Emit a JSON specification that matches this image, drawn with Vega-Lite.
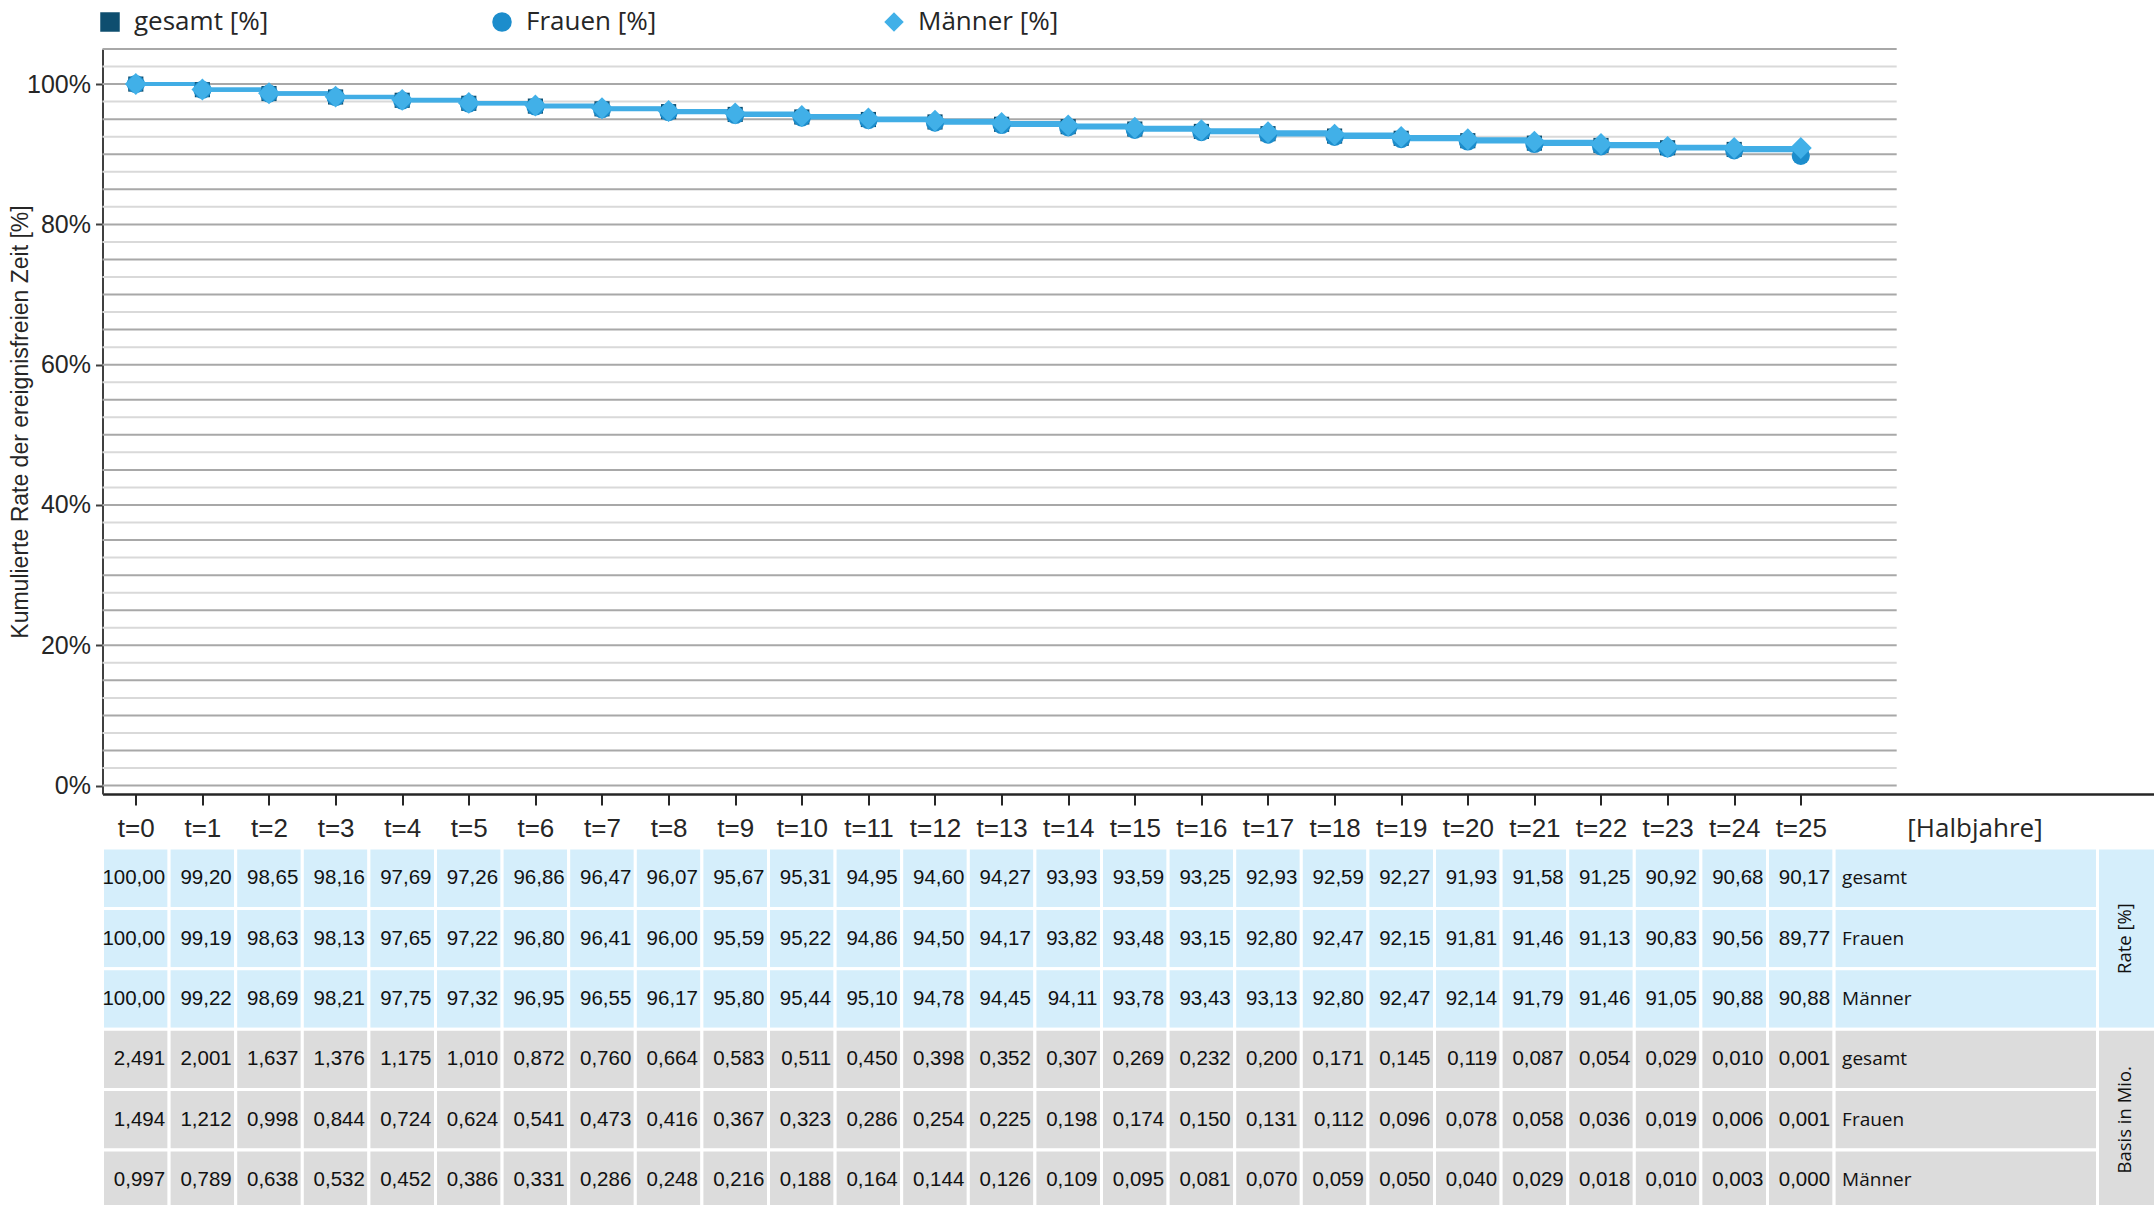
{
  "$schema": "https://vega.github.io/schema/vega-lite/v6.json",
  "background": "white",
  "padding": {"left": 9.5, "top": 9, "right": 0, "bottom": 0},
  "config": {
    "view": {"stroke": null},
    "locale": {"number": {"decimal": ",", "thousands": ".", "grouping": [3], "currency": ["", " €"]}},
    "legend": {"orient": "none", "legendX": -5.5, "legendY": -40, "direction": "horizontal", "title": null, "labelFont": "Open Sans", "labelFontSize": 26, "labelColor": "#262626", "symbolSize": 380, "symbolStrokeWidth": 0, "columnPadding": 214, "labelOffset": 11, "gridAlign": "all", "padding": 0}
  },
  "spacing": 54,
  "bounds": "flush",
  "resolve": {"scale": {"color": "independent", "shape": "independent", "fill": "independent"}, "legend": {"color": "independent", "shape": "independent"}},
  "datasets": {
    "d": [
      {"t":0,"g":"gesamt","rate":100.00,"basis":2.491},{"t":1,"g":"gesamt","rate":99.20,"basis":2.001},{"t":2,"g":"gesamt","rate":98.65,"basis":1.637},{"t":3,"g":"gesamt","rate":98.16,"basis":1.376},{"t":4,"g":"gesamt","rate":97.69,"basis":1.175},{"t":5,"g":"gesamt","rate":97.26,"basis":1.010},{"t":6,"g":"gesamt","rate":96.86,"basis":0.872},{"t":7,"g":"gesamt","rate":96.47,"basis":0.760},{"t":8,"g":"gesamt","rate":96.07,"basis":0.664},{"t":9,"g":"gesamt","rate":95.67,"basis":0.583},{"t":10,"g":"gesamt","rate":95.31,"basis":0.511},{"t":11,"g":"gesamt","rate":94.95,"basis":0.450},{"t":12,"g":"gesamt","rate":94.60,"basis":0.398},{"t":13,"g":"gesamt","rate":94.27,"basis":0.352},{"t":14,"g":"gesamt","rate":93.93,"basis":0.307},{"t":15,"g":"gesamt","rate":93.59,"basis":0.269},{"t":16,"g":"gesamt","rate":93.25,"basis":0.232},{"t":17,"g":"gesamt","rate":92.93,"basis":0.200},{"t":18,"g":"gesamt","rate":92.59,"basis":0.171},{"t":19,"g":"gesamt","rate":92.27,"basis":0.145},{"t":20,"g":"gesamt","rate":91.93,"basis":0.119},{"t":21,"g":"gesamt","rate":91.58,"basis":0.087},{"t":22,"g":"gesamt","rate":91.25,"basis":0.054},{"t":23,"g":"gesamt","rate":90.92,"basis":0.029},{"t":24,"g":"gesamt","rate":90.68,"basis":0.010},{"t":25,"g":"gesamt","rate":90.17,"basis":0.001},
      {"t":0,"g":"Frauen","rate":100.00,"basis":1.494},{"t":1,"g":"Frauen","rate":99.19,"basis":1.212},{"t":2,"g":"Frauen","rate":98.63,"basis":0.998},{"t":3,"g":"Frauen","rate":98.13,"basis":0.844},{"t":4,"g":"Frauen","rate":97.65,"basis":0.724},{"t":5,"g":"Frauen","rate":97.22,"basis":0.624},{"t":6,"g":"Frauen","rate":96.80,"basis":0.541},{"t":7,"g":"Frauen","rate":96.41,"basis":0.473},{"t":8,"g":"Frauen","rate":96.00,"basis":0.416},{"t":9,"g":"Frauen","rate":95.59,"basis":0.367},{"t":10,"g":"Frauen","rate":95.22,"basis":0.323},{"t":11,"g":"Frauen","rate":94.86,"basis":0.286},{"t":12,"g":"Frauen","rate":94.50,"basis":0.254},{"t":13,"g":"Frauen","rate":94.17,"basis":0.225},{"t":14,"g":"Frauen","rate":93.82,"basis":0.198},{"t":15,"g":"Frauen","rate":93.48,"basis":0.174},{"t":16,"g":"Frauen","rate":93.15,"basis":0.150},{"t":17,"g":"Frauen","rate":92.80,"basis":0.131},{"t":18,"g":"Frauen","rate":92.47,"basis":0.112},{"t":19,"g":"Frauen","rate":92.15,"basis":0.096},{"t":20,"g":"Frauen","rate":91.81,"basis":0.078},{"t":21,"g":"Frauen","rate":91.46,"basis":0.058},{"t":22,"g":"Frauen","rate":91.13,"basis":0.036},{"t":23,"g":"Frauen","rate":90.83,"basis":0.019},{"t":24,"g":"Frauen","rate":90.56,"basis":0.006},{"t":25,"g":"Frauen","rate":89.77,"basis":0.001},
      {"t":0,"g":"Männer","rate":100.00,"basis":0.997},{"t":1,"g":"Männer","rate":99.22,"basis":0.789},{"t":2,"g":"Männer","rate":98.69,"basis":0.638},{"t":3,"g":"Männer","rate":98.21,"basis":0.532},{"t":4,"g":"Männer","rate":97.75,"basis":0.452},{"t":5,"g":"Männer","rate":97.32,"basis":0.386},{"t":6,"g":"Männer","rate":96.95,"basis":0.331},{"t":7,"g":"Männer","rate":96.55,"basis":0.286},{"t":8,"g":"Männer","rate":96.17,"basis":0.248},{"t":9,"g":"Männer","rate":95.80,"basis":0.216},{"t":10,"g":"Männer","rate":95.44,"basis":0.188},{"t":11,"g":"Männer","rate":95.10,"basis":0.164},{"t":12,"g":"Männer","rate":94.78,"basis":0.144},{"t":13,"g":"Männer","rate":94.45,"basis":0.126},{"t":14,"g":"Männer","rate":94.11,"basis":0.109},{"t":15,"g":"Männer","rate":93.78,"basis":0.095},{"t":16,"g":"Männer","rate":93.43,"basis":0.081},{"t":17,"g":"Männer","rate":93.13,"basis":0.070},{"t":18,"g":"Männer","rate":92.80,"basis":0.059},{"t":19,"g":"Männer","rate":92.47,"basis":0.050},{"t":20,"g":"Männer","rate":92.14,"basis":0.040},{"t":21,"g":"Männer","rate":91.79,"basis":0.029},{"t":22,"g":"Männer","rate":91.46,"basis":0.018},{"t":23,"g":"Männer","rate":91.05,"basis":0.010},{"t":24,"g":"Männer","rate":90.88,"basis":0.003},{"t":25,"g":"Männer","rate":90.88,"basis":0.000}
    ],
    "gmaj": [{"g":0},{"g":5},{"g":10},{"g":15},{"g":20},{"g":25},{"g":30},{"g":35},{"g":40},{"g":45},{"g":50},{"g":55},{"g":60},{"g":65},{"g":70},{"g":75},{"g":80},{"g":85},{"g":90},{"g":95},{"g":100},{"g":105}],
    "gmin": [{"g":2.5},{"g":7.5},{"g":12.5},{"g":17.5},{"g":22.5},{"g":27.5},{"g":32.5},{"g":37.5},{"g":42.5},{"g":47.5},{"g":52.5},{"g":57.5},{"g":62.5},{"g":67.5},{"g":72.5},{"g":77.5},{"g":82.5},{"g":87.5},{"g":92.5},{"g":97.5},{"g":102.5}],
    "blocks": [{"blk":"Rate [%]","r0":0,"r1":3},{"blk":"Basis in Mio.","r0":3,"r1":6}]
  },
  "vconcat": [
    {
      "width": 2051,
      "height": 745,
      "layer": [
        {
          "data": {"name": "gmin"},
          "mark": {"type": "rule", "color": "#D9D9D9", "strokeWidth": 2},
          "encoding": {
            "x": {"datum": -0.5, "type": "quantitative", "scale": {"domain": [-0.5, 30.296], "nice": false, "zero": false},
              "axis": {"values": [0,1,2,3,4,5,6,7,8,9,10,11,12,13,14,15,16,17,18,19,20,21,22,23,24,25], "labelExpr": "'t=' + datum.value", "title": "[Halbjahre]", "titleX": 1872, "titleY": 34, "titleBaseline": "middle", "titleAlign": "center", "titleFont": "Open Sans", "titleFontSize": 26, "titleFontWeight": "normal", "titleColor": "#262626", "labelFont": "Liberation Sans", "labelFontSize": 26, "labelColor": "#262626", "labelBaseline": "middle", "labelPadding": 23, "labelOverlap": false, "labelFlush": false, "tickSize": 11, "tickColor": "#262626", "tickWidth": 2, "domainColor": "#262626", "domainWidth": 2.5, "grid": false}},
            "x2": {"datum": 26.44},
            "y": {"field": "g", "type": "quantitative", "scale": {"domain": [-1.2, 105], "nice": false, "zero": false},
              "axis": {"values": [0,20,40,60,80,100], "labelExpr": "datum.value + '%'", "title": "Kumulierte Rate der ereignisfreien Zeit [%]", "titleX": -82, "titleY": 372.5, "titleAngle": 270, "titleBaseline": "middle", "titleAlign": "center", "titleFont": "Liberation Sans", "titleFontSize": 23, "titleFontWeight": "normal", "titleColor": "#262626", "labelFont": "Liberation Sans", "labelFontSize": 25, "labelColor": "#262626", "labelPadding": 5, "labelFlush": false, "labelOverlap": false, "tickSize": 7, "tickColor": "#404040", "tickWidth": 2, "domainColor": "#404040", "domainWidth": 2, "grid": false}}
          }
        },
        {
          "data": {"name": "gmaj"},
          "mark": {"type": "rule", "color": "#A8A8A8", "strokeWidth": 2},
          "encoding": {
            "x": {"datum": -0.5, "type": "quantitative", "scale": {"domain": [-0.5, 30.296], "nice": false, "zero": false},
              "axis": {"values": [0,1,2,3,4,5,6,7,8,9,10,11,12,13,14,15,16,17,18,19,20,21,22,23,24,25], "labelExpr": "'t=' + datum.value", "title": "[Halbjahre]", "titleX": 1872, "titleY": 34, "titleBaseline": "middle", "titleAlign": "center", "titleFont": "Open Sans", "titleFontSize": 26, "titleFontWeight": "normal", "titleColor": "#262626", "labelFont": "Liberation Sans", "labelFontSize": 26, "labelColor": "#262626", "labelBaseline": "middle", "labelPadding": 23, "labelOverlap": false, "labelFlush": false, "tickSize": 11, "tickColor": "#262626", "tickWidth": 2, "domainColor": "#262626", "domainWidth": 2.5, "grid": false}},
            "x2": {"datum": 26.44},
            "y": {"field": "g", "type": "quantitative", "scale": {"domain": [-1.2, 105], "nice": false, "zero": false},
              "axis": {"values": [0,20,40,60,80,100], "labelExpr": "datum.value + '%'", "title": "Kumulierte Rate der ereignisfreien Zeit [%]", "titleX": -82, "titleY": 372.5, "titleAngle": 270, "titleBaseline": "middle", "titleAlign": "center", "titleFont": "Liberation Sans", "titleFontSize": 23, "titleFontWeight": "normal", "titleColor": "#262626", "labelFont": "Liberation Sans", "labelFontSize": 25, "labelColor": "#262626", "labelPadding": 5, "labelFlush": false, "labelOverlap": false, "tickSize": 7, "tickColor": "#404040", "tickWidth": 2, "domainColor": "#404040", "domainWidth": 2, "grid": false}}
          }
        },
        {
          "data": {"name": "d"},
          "mark": {"type": "line", "interpolate": "step-after", "strokeWidth": 4, "color": "#41ADE5"},
          "encoding": {
            "x": {"field": "t", "type": "quantitative", "scale": {"domain": [-0.5, 30.296], "nice": false, "zero": false},
              "axis": {"values": [0,1,2,3,4,5,6,7,8,9,10,11,12,13,14,15,16,17,18,19,20,21,22,23,24,25], "labelExpr": "'t=' + datum.value", "title": "[Halbjahre]", "titleX": 1872, "titleY": 34, "titleBaseline": "middle", "titleAlign": "center", "titleFont": "Open Sans", "titleFontSize": 26, "titleFontWeight": "normal", "titleColor": "#262626", "labelFont": "Liberation Sans", "labelFontSize": 26, "labelColor": "#262626", "labelBaseline": "middle", "labelPadding": 23, "labelOverlap": false, "labelFlush": false, "tickSize": 11, "tickColor": "#262626", "tickWidth": 2, "domainColor": "#262626", "domainWidth": 2.5, "grid": false}},
            "y": {"field": "rate", "type": "quantitative", "scale": {"domain": [-1.2, 105], "nice": false, "zero": false},
              "axis": {"values": [0,20,40,60,80,100], "labelExpr": "datum.value + '%'", "title": "Kumulierte Rate der ereignisfreien Zeit [%]", "titleX": -82, "titleY": 372.5, "titleAngle": 270, "titleBaseline": "middle", "titleAlign": "center", "titleFont": "Liberation Sans", "titleFontSize": 23, "titleFontWeight": "normal", "titleColor": "#262626", "labelFont": "Liberation Sans", "labelFontSize": 25, "labelColor": "#262626", "labelPadding": 5, "labelFlush": false, "labelOverlap": false, "tickSize": 7, "tickColor": "#404040", "tickWidth": 2, "domainColor": "#404040", "domainWidth": 2, "grid": false}},
            "detail": {"field": "g", "type": "nominal"}
          }
        },
        {
          "data": {"name": "d"},
          "transform": [{"filter": "datum.g == 'gesamt'"}],
          "mark": {"type": "point", "filled": true, "opacity": 1, "strokeWidth": 0, "size": 230},
          "encoding": {
            "x": {"field": "t", "type": "quantitative", "scale": {"domain": [-0.5, 30.296], "nice": false, "zero": false},
              "axis": {"values": [0,1,2,3,4,5,6,7,8,9,10,11,12,13,14,15,16,17,18,19,20,21,22,23,24,25], "labelExpr": "'t=' + datum.value", "title": "[Halbjahre]", "titleX": 1872, "titleY": 34, "titleBaseline": "middle", "titleAlign": "center", "titleFont": "Open Sans", "titleFontSize": 26, "titleFontWeight": "normal", "titleColor": "#262626", "labelFont": "Liberation Sans", "labelFontSize": 26, "labelColor": "#262626", "labelBaseline": "middle", "labelPadding": 23, "labelOverlap": false, "labelFlush": false, "tickSize": 11, "tickColor": "#262626", "tickWidth": 2, "domainColor": "#262626", "domainWidth": 2.5, "grid": false}},
            "y": {"field": "rate", "type": "quantitative", "scale": {"domain": [-1.2, 105], "nice": false, "zero": false},
              "axis": {"values": [0,20,40,60,80,100], "labelExpr": "datum.value + '%'", "title": "Kumulierte Rate der ereignisfreien Zeit [%]", "titleX": -82, "titleY": 372.5, "titleAngle": 270, "titleBaseline": "middle", "titleAlign": "center", "titleFont": "Liberation Sans", "titleFontSize": 23, "titleFontWeight": "normal", "titleColor": "#262626", "labelFont": "Liberation Sans", "labelFontSize": 25, "labelColor": "#262626", "labelPadding": 5, "labelFlush": false, "labelOverlap": false, "tickSize": 7, "tickColor": "#404040", "tickWidth": 2, "domainColor": "#404040", "domainWidth": 2, "grid": false}},
            "color": {"field": "g", "type": "nominal", "scale": {"domain": ["gesamt", "Frauen", "Männer"], "range": ["#0E4E6F", "#1C8DCC", "#41B0E8"]}, "legend": {"labelExpr": "datum.label + ' [%]'"}},
            "shape": {"field": "g", "type": "nominal", "scale": {"domain": ["gesamt", "Frauen", "Männer"], "range": ["square", "circle", "diamond"]}, "legend": {"labelExpr": "datum.label + ' [%]'"}}
          }
        },
        {
          "data": {"name": "d"},
          "transform": [{"filter": "datum.g == 'Frauen'"}],
          "mark": {"type": "point", "filled": true, "opacity": 1, "strokeWidth": 0, "size": 330},
          "encoding": {
            "x": {"field": "t", "type": "quantitative", "scale": {"domain": [-0.5, 30.296], "nice": false, "zero": false},
              "axis": {"values": [0,1,2,3,4,5,6,7,8,9,10,11,12,13,14,15,16,17,18,19,20,21,22,23,24,25], "labelExpr": "'t=' + datum.value", "title": "[Halbjahre]", "titleX": 1872, "titleY": 34, "titleBaseline": "middle", "titleAlign": "center", "titleFont": "Open Sans", "titleFontSize": 26, "titleFontWeight": "normal", "titleColor": "#262626", "labelFont": "Liberation Sans", "labelFontSize": 26, "labelColor": "#262626", "labelBaseline": "middle", "labelPadding": 23, "labelOverlap": false, "labelFlush": false, "tickSize": 11, "tickColor": "#262626", "tickWidth": 2, "domainColor": "#262626", "domainWidth": 2.5, "grid": false}},
            "y": {"field": "rate", "type": "quantitative", "scale": {"domain": [-1.2, 105], "nice": false, "zero": false},
              "axis": {"values": [0,20,40,60,80,100], "labelExpr": "datum.value + '%'", "title": "Kumulierte Rate der ereignisfreien Zeit [%]", "titleX": -82, "titleY": 372.5, "titleAngle": 270, "titleBaseline": "middle", "titleAlign": "center", "titleFont": "Liberation Sans", "titleFontSize": 23, "titleFontWeight": "normal", "titleColor": "#262626", "labelFont": "Liberation Sans", "labelFontSize": 25, "labelColor": "#262626", "labelPadding": 5, "labelFlush": false, "labelOverlap": false, "tickSize": 7, "tickColor": "#404040", "tickWidth": 2, "domainColor": "#404040", "domainWidth": 2, "grid": false}},
            "color": {"field": "g", "type": "nominal", "scale": {"domain": ["gesamt", "Frauen", "Männer"], "range": ["#0E4E6F", "#1C8DCC", "#41B0E8"]}, "legend": {"labelExpr": "datum.label + ' [%]'"}},
            "shape": {"field": "g", "type": "nominal", "scale": {"domain": ["gesamt", "Frauen", "Männer"], "range": ["square", "circle", "diamond"]}, "legend": {"labelExpr": "datum.label + ' [%]'"}}
          }
        },
        {
          "data": {"name": "d"},
          "transform": [{"filter": "datum.g == 'Männer'"}],
          "mark": {"type": "point", "filled": true, "opacity": 1, "strokeWidth": 0, "size": 480},
          "encoding": {
            "x": {"field": "t", "type": "quantitative", "scale": {"domain": [-0.5, 30.296], "nice": false, "zero": false},
              "axis": {"values": [0,1,2,3,4,5,6,7,8,9,10,11,12,13,14,15,16,17,18,19,20,21,22,23,24,25], "labelExpr": "'t=' + datum.value", "title": "[Halbjahre]", "titleX": 1872, "titleY": 34, "titleBaseline": "middle", "titleAlign": "center", "titleFont": "Open Sans", "titleFontSize": 26, "titleFontWeight": "normal", "titleColor": "#262626", "labelFont": "Liberation Sans", "labelFontSize": 26, "labelColor": "#262626", "labelBaseline": "middle", "labelPadding": 23, "labelOverlap": false, "labelFlush": false, "tickSize": 11, "tickColor": "#262626", "tickWidth": 2, "domainColor": "#262626", "domainWidth": 2.5, "grid": false}},
            "y": {"field": "rate", "type": "quantitative", "scale": {"domain": [-1.2, 105], "nice": false, "zero": false},
              "axis": {"values": [0,20,40,60,80,100], "labelExpr": "datum.value + '%'", "title": "Kumulierte Rate der ereignisfreien Zeit [%]", "titleX": -82, "titleY": 372.5, "titleAngle": 270, "titleBaseline": "middle", "titleAlign": "center", "titleFont": "Liberation Sans", "titleFontSize": 23, "titleFontWeight": "normal", "titleColor": "#262626", "labelFont": "Liberation Sans", "labelFontSize": 25, "labelColor": "#262626", "labelPadding": 5, "labelFlush": false, "labelOverlap": false, "tickSize": 7, "tickColor": "#404040", "tickWidth": 2, "domainColor": "#404040", "domainWidth": 2, "grid": false}},
            "color": {"field": "g", "type": "nominal", "scale": {"domain": ["gesamt", "Frauen", "Männer"], "range": ["#0E4E6F", "#1C8DCC", "#41B0E8"]}, "legend": {"labelExpr": "datum.label + ' [%]'"}},
            "shape": {"field": "g", "type": "nominal", "scale": {"domain": ["gesamt", "Frauen", "Männer"], "range": ["square", "circle", "diamond"]}, "legend": {"labelExpr": "datum.label + ' [%]'"}}
          }
        }
      ]
    },
    {
      "width": 2051,
      "height": 362.4,
      "layer": [
        {
          "data": {"name": "d"},
          "transform": [
            {"calculate": "indexof(['gesamt','Frauen','Männer'], datum.g)", "as": "r"},
            {"calculate": "datum.r + 1", "as": "r1"},
            {"calculate": "datum.r + 0.5", "as": "rc"},
            {"calculate": "datum.t - 0.5", "as": "t0"},
            {"calculate": "datum.t + 0.5", "as": "t1"}
          ],
          "layer": [
            {
              "mark": {"type": "rect", "fill": "#D5EEFB", "stroke": "white", "strokeWidth": 3},
              "encoding": {
                "x": {"field": "t0", "type": "quantitative", "scale": {"domain": [-0.5, 30.296], "nice": false, "zero": false}, "axis": null},
                "x2": {"field": "t1"},
                "y": {"field": "r", "type": "quantitative", "scale": {"domain": [0, 6], "reverse": true, "nice": false, "zero": false}, "axis": null},
                "y2": {"field": "r1"}
              }
            },
            {
              "mark": {"type": "text", "align": "right", "baseline": "middle", "dx": -4, "font": "Liberation Sans", "fontSize": 20.5, "color": "#111111"},
              "encoding": {
                "x": {"field": "t1", "type": "quantitative", "scale": {"domain": [-0.5, 30.296], "nice": false, "zero": false}, "axis": null},
                "y": {"field": "rc", "type": "quantitative", "scale": {"domain": [0, 6], "reverse": true, "nice": false, "zero": false}, "axis": null},
                "text": {"field": "rate", "type": "quantitative", "format": ".2f"}
              }
            },
            {
              "transform": [{"filter": "datum.t == 0"}],
              "mark": {"type": "rect", "fill": "#D5EEFB", "stroke": "white", "strokeWidth": 3},
              "encoding": {
                "x": {"datum": 25.5, "type": "quantitative", "scale": {"domain": [-0.5, 30.296], "nice": false, "zero": false}, "axis": null},
                "x2": {"datum": 29.455},
                "y": {"field": "r", "type": "quantitative", "scale": {"domain": [0, 6], "reverse": true, "nice": false, "zero": false}, "axis": null},
                "y2": {"field": "r1"}
              }
            },
            {
              "transform": [{"filter": "datum.t == 0"}],
              "mark": {"type": "text", "align": "left", "baseline": "middle", "dx": 8, "font": "Open Sans", "fontSize": 19, "color": "#111111"},
              "encoding": {
                "x": {"datum": 25.5, "type": "quantitative", "scale": {"domain": [-0.5, 30.296], "nice": false, "zero": false}, "axis": null},
                "y": {"field": "rc", "type": "quantitative", "scale": {"domain": [0, 6], "reverse": true, "nice": false, "zero": false}, "axis": null},
                "text": {"field": "g", "type": "nominal"}
              }
            }
          ]
        },
        {
          "data": {"name": "d"},
          "transform": [
            {"calculate": "3 + indexof(['gesamt','Frauen','Männer'], datum.g)", "as": "r"},
            {"calculate": "datum.r + 1", "as": "r1"},
            {"calculate": "datum.r + 0.5", "as": "rc"},
            {"calculate": "datum.t - 0.5", "as": "t0"},
            {"calculate": "datum.t + 0.5", "as": "t1"}
          ],
          "layer": [
            {
              "mark": {"type": "rect", "fill": "#DCDCDC", "stroke": "white", "strokeWidth": 3},
              "encoding": {
                "x": {"field": "t0", "type": "quantitative", "scale": {"domain": [-0.5, 30.296], "nice": false, "zero": false}, "axis": null},
                "x2": {"field": "t1"},
                "y": {"field": "r", "type": "quantitative", "scale": {"domain": [0, 6], "reverse": true, "nice": false, "zero": false}, "axis": null},
                "y2": {"field": "r1"}
              }
            },
            {
              "mark": {"type": "text", "align": "right", "baseline": "middle", "dx": -4, "font": "Liberation Sans", "fontSize": 20.5, "color": "#111111"},
              "encoding": {
                "x": {"field": "t1", "type": "quantitative", "scale": {"domain": [-0.5, 30.296], "nice": false, "zero": false}, "axis": null},
                "y": {"field": "rc", "type": "quantitative", "scale": {"domain": [0, 6], "reverse": true, "nice": false, "zero": false}, "axis": null},
                "text": {"field": "basis", "type": "quantitative", "format": ".3f"}
              }
            },
            {
              "transform": [{"filter": "datum.t == 0"}],
              "mark": {"type": "rect", "fill": "#DCDCDC", "stroke": "white", "strokeWidth": 3},
              "encoding": {
                "x": {"datum": 25.5, "type": "quantitative", "scale": {"domain": [-0.5, 30.296], "nice": false, "zero": false}, "axis": null},
                "x2": {"datum": 29.455},
                "y": {"field": "r", "type": "quantitative", "scale": {"domain": [0, 6], "reverse": true, "nice": false, "zero": false}, "axis": null},
                "y2": {"field": "r1"}
              }
            },
            {
              "transform": [{"filter": "datum.t == 0"}],
              "mark": {"type": "text", "align": "left", "baseline": "middle", "dx": 8, "font": "Open Sans", "fontSize": 19, "color": "#111111"},
              "encoding": {
                "x": {"datum": 25.5, "type": "quantitative", "scale": {"domain": [-0.5, 30.296], "nice": false, "zero": false}, "axis": null},
                "y": {"field": "rc", "type": "quantitative", "scale": {"domain": [0, 6], "reverse": true, "nice": false, "zero": false}, "axis": null},
                "text": {"field": "g", "type": "nominal"}
              }
            }
          ]
        },
        {
          "data": {"name": "blocks"},
          "transform": [{"calculate": "(datum.r0 + datum.r1) / 2", "as": "rm"}],
          "layer": [
            {
              "mark": {"type": "rect", "stroke": "white", "strokeWidth": 3},
              "encoding": {
                "x": {"datum": 29.455, "type": "quantitative", "scale": {"domain": [-0.5, 30.296], "nice": false, "zero": false}, "axis": null},
                "x2": {"datum": 30.4},
                "y": {"field": "r0", "type": "quantitative", "scale": {"domain": [0, 6], "reverse": true, "nice": false, "zero": false}, "axis": null},
                "y2": {"field": "r1"},
                "fill": {"field": "blk", "type": "nominal", "scale": {"domain": ["Rate [%]", "Basis in Mio."], "range": ["#D5EEFB", "#DCDCDC"]}, "legend": null}
              }
            },
            {
              "mark": {"type": "text", "angle": 270, "align": "center", "baseline": "middle", "font": "Open Sans", "fontSize": 18.5, "color": "#111111"},
              "encoding": {
                "x": {"datum": 29.875, "type": "quantitative", "scale": {"domain": [-0.5, 30.296], "nice": false, "zero": false}, "axis": null},
                "y": {"field": "rm", "type": "quantitative", "scale": {"domain": [0, 6], "reverse": true, "nice": false, "zero": false}, "axis": null},
                "text": {"field": "blk", "type": "nominal"}
              }
            }
          ]
        }
      ]
    }
  ]
}
